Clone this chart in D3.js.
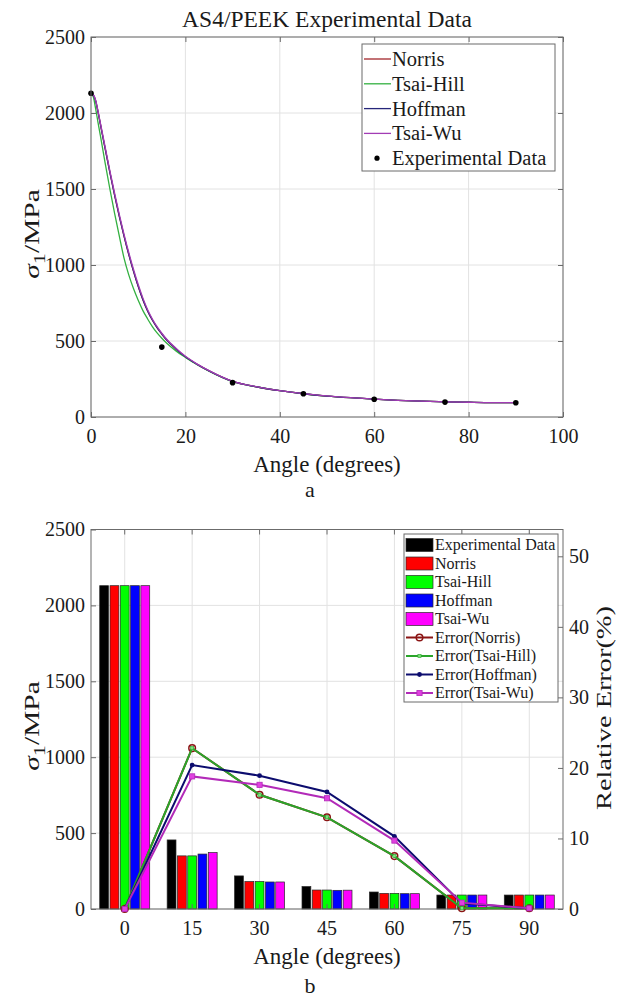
<!DOCTYPE html>
<html>
<head>
<meta charset="utf-8">
<script src="https://cdn.jsdelivr.net/npm/d3@7"></script>
<style>
  body { margin: 0; background: #fff; }
  svg text { font-family: "Liberation Serif", "Times New Roman", serif; fill: #1a1a1a; }
</style>
</head>
<body>
<svg id="fig" width="620" height="1001"></svg>
<script>
// ---- data ----
var curveAngles   = [0, 0.5, 1, 1.5, 2, 3, 4, 5, 6, 7, 8, 9, 10, 11, 12, 13, 14, 15, 16, 18, 20, 22.5, 25, 30, 35, 40, 45, 50, 55, 60, 65, 70, 75, 80, 85, 90];
var norrisCurve   = [2130, 2118, 2078, 2005, 1925, 1765, 1610, 1460, 1320, 1190, 1070, 960, 860, 772, 698, 638, 588, 546, 508, 448, 396, 346, 303, 234, 199, 173, 153, 138, 127, 118, 110, 104, 100, 97, 95, 95];
var tsaiHillCurve = [2130, 2105, 2025, 1935, 1850, 1670, 1500, 1340, 1190, 1045, 935, 845, 768, 700, 645, 595, 553, 518, 487, 435, 392, 344, 302, 233, 199, 173, 153, 138, 127, 118, 110, 104, 100, 97, 95, 95];
var hoffmanCurve  = [2130, 2118, 2078, 2005, 1925, 1765, 1610, 1460, 1320, 1190, 1070, 960, 860, 772, 698, 638, 588, 546, 508, 448, 396, 346, 303, 234, 199, 173, 153, 138, 127, 118, 110, 104, 100, 97, 95, 95];
var tsaiWuCurve   = [2130, 2120, 2082, 2010, 1932, 1775, 1620, 1472, 1332, 1202, 1082, 972, 872, 782, 706, 645, 594, 551, 513, 452, 399, 348, 305, 235, 200, 174, 154, 139, 127, 118, 110, 104, 100, 97, 95, 95];

var expAngles = [0, 15, 30, 45, 60, 75, 90];
var expValues = [2130, 460, 226, 153, 117, 98, 94];

var barCategories = ['0', '15', '30', '45', '60', '75', '90'];
var barSeries     = ['Experimental Data', 'Norris', 'Tsai-Hill', 'Hoffman', 'Tsai-Wu'];
var barExp        = [2130, 455, 218, 148, 112, 92, 92];
var barNorris     = [2130, 350, 181, 125, 103, 92, 92];
var barTsaiHill   = [2130, 350, 181, 125, 103, 92, 92];
var barHoffman    = [2130, 362, 178, 123, 101, 92, 92];
var barTsaiWu     = [2130, 372, 178, 124, 101, 92, 92];

var errSeries   = ['Error(Norris)', 'Error(Tsai-Hill)', 'Error(Hoffman)', 'Error(Tsai-Wu)'];
var errNorris   = [0, 22.8, 16.2, 13.0, 7.5, 0.1, 0.1];
var errTsaiHill = [0, 22.8, 16.2, 13.0, 7.5, 0.1, 0.1];
var errHoffman  = [0, 20.4, 18.9, 16.6, 10.3, 0.8, 0.1];
var errTsaiWu   = [0, 18.8, 17.6, 15.7, 9.7, 0.9, 0.1];

var topYTicks = [0, 500, 1000, 1500, 2000, 2500];
var topXTicks = [0, 20, 40, 60, 80, 100];
var errTicks  = [0, 10, 20, 30, 40, 50];

// ---- styles ----
var SERIF      = '"Liberation Serif", "Times New Roman", serif';
var AXIS_COLOR = '#6b6b6b';
var GRID_COLOR = '#e2e2e2';
var TICK_FONT  = 20;
var curveColors = ['#a3262a', '#33b040', '#26267a', '#a23cb4'];
var barColors   = ['#000000', '#ff0000', '#00ff00', '#0000ff', '#ff00ff'];
var errColors   = ['#8b1414', '#2aa52a', '#0c0c6e', '#b22ab8'];
var fmt = d3.format('d');

var svg = d3.select('#fig');

function styleAxis(g) {
    g.attr('font-family', null);
    g.select('.domain').remove();
    g.selectAll('.tick line').attr('stroke', AXIS_COLOR).attr('stroke-width', 1);
    g.selectAll('.tick text')
        .style('font-family', SERIF)
        .attr('font-size', TICK_FONT)
        .attr('fill', '#1a1a1a');
}

function addText(x, y, size, str) {
    return svg.append('text').attr('x', x).attr('y', y)
        .attr('text-anchor', 'middle')
        .style('font-family', SERIF)
        .attr('font-size', size).text(str);
}

// rotated labels are drawn slightly stretched along their run, as in the figure
function sigmaLabel(x, y) {
    var t = svg.append('text')
        .attr('transform', 'translate(' + x + ',' + y + ') rotate(-90) scale(1.4,1)')
        .attr('text-anchor', 'middle')
        .style('font-family', SERIF)
        .attr('font-size', 21);
    t.append('tspan').attr('font-style', 'italic').text('\u03c3');
    t.append('tspan').attr('dy', 6).attr('font-size', 16).text('1');
    t.append('tspan').attr('dy', -6).text('/MPa');
}

// =============== panel a ===============
var ax = d3.scaleLinear().domain([0, 100]).range([91, 563]);
var ay = d3.scaleLinear().domain([0, 2500]).range([417, 37]);

var gA = svg.append('g');

gA.selectAll('.vgrid').data(topXTicks).enter().append('line')
    .attr('x1', function(d) { return ax(d); }).attr('x2', function(d) { return ax(d); })
    .attr('y1', ay(0)).attr('y2', ay(2500))
    .attr('stroke', GRID_COLOR);
gA.selectAll('.hgrid').data(topYTicks).enter().append('line')
    .attr('x1', ax(0)).attr('x2', ax(100))
    .attr('y1', function(d) { return ay(d); }).attr('y2', function(d) { return ay(d); })
    .attr('stroke', GRID_COLOR);

var curveLine = d3.line()
    .x(function(d) { return ax(d[0]); })
    .y(function(d) { return ay(d[1]); })
    .curve(d3.curveMonotoneX);

var curves = [norrisCurve, tsaiHillCurve, hoffmanCurve, tsaiWuCurve];
curves.forEach(function(vals, i) {
    gA.append('path')
        .datum(d3.zip(curveAngles, vals))
        .attr('d', curveLine)
        .attr('fill', 'none')
        .attr('stroke', curveColors[i])
        .attr('stroke-width', 1.3);
});

gA.selectAll('.exp').data(d3.zip(expAngles, expValues)).enter().append('circle')
    .attr('cx', function(d) { return ax(d[0]); })
    .attr('cy', function(d) { return ay(d[1]); })
    .attr('r', 2.8)
    .attr('fill', '#000');

gA.append('g').attr('transform', 'translate(0,' + ay(0) + ')')
    .call(d3.axisBottom(ax).tickValues(topXTicks).tickSize(-5).tickPadding(12).tickFormat(fmt)).call(styleAxis);
gA.append('g').attr('transform', 'translate(0,' + ay(2500) + ')')
    .call(d3.axisTop(ax).tickValues(topXTicks).tickSize(-5).tickFormat('')).call(styleAxis);
gA.append('g').attr('transform', 'translate(' + ax(0) + ',0)')
    .call(d3.axisLeft(ay).tickValues(topYTicks).tickSize(-5).tickPadding(6).tickFormat(fmt)).call(styleAxis);
gA.append('g').attr('transform', 'translate(' + ax(100) + ',0)')
    .call(d3.axisRight(ay).tickValues(topYTicks).tickSize(-5).tickFormat('')).call(styleAxis);

gA.append('rect')
    .attr('x', ax(0)).attr('y', ay(2500))
    .attr('width', ax(100) - ax(0)).attr('height', ay(0) - ay(2500))
    .attr('fill', 'none').attr('stroke', AXIS_COLOR);

addText(327, 27, 23.5, 'AS4/PEEK Experimental Data');
addText(327, 472, 23, 'Angle (degrees)');
addText(310, 497, 22, 'a');
sigmaLabel(39, 234);

// legend a
var legA = gA.append('g');
legA.append('rect').attr('x', 362).attr('y', 44).attr('width', 193).attr('height', 127)
    .attr('fill', '#fff').attr('stroke', AXIS_COLOR);
var legANames = ['Norris', 'Tsai-Hill', 'Hoffman', 'Tsai-Wu', 'Experimental Data'];
legANames.forEach(function(name, i) {
    var cy = 59 + i * 24.8;
    if (i < 4) {
        legA.append('line').attr('x1', 364).attr('x2', 391).attr('y1', cy).attr('y2', cy)
            .attr('stroke', curveColors[i]).attr('stroke-width', 1.3);
    } else {
        legA.append('circle').attr('cx', 377).attr('cy', cy).attr('r', 2.6).attr('fill', '#000');
    }
    legA.append('text').attr('x', 392).attr('y', cy + 7)
        .style('font-family', SERIF).attr('font-size', 20.5).text(name);
});

// =============== panel b ===============
var bx = d3.scaleBand().domain(barCategories).range([91, 563]);
var by = d3.scaleLinear().domain([0, 2500]).range([909, 529.5]);
var ey = d3.scaleLinear().domain([0, 53.8]).range([909, 529.5]);
var inner = d3.scaleBand().domain(barSeries).range([-25, 25]).paddingInner(0.14);
function cx(c) { return bx(c) + bx.bandwidth() / 2; }

var gB = svg.append('g');

gB.selectAll('.vgrid').data(barCategories).enter().append('line')
    .attr('x1', cx).attr('x2', cx)
    .attr('y1', by(0)).attr('y2', by(2500))
    .attr('stroke', GRID_COLOR);
gB.selectAll('.hgrid').data(topYTicks).enter().append('line')
    .attr('x1', 91).attr('x2', 563)
    .attr('y1', function(d) { return by(d); }).attr('y2', function(d) { return by(d); })
    .attr('stroke', GRID_COLOR);

var barValues = [barExp, barNorris, barTsaiHill, barHoffman, barTsaiWu];
barSeries.forEach(function(s, si) {
    gB.selectAll('.bar' + si).data(barCategories).enter().append('rect')
        .attr('x', function(c) { return cx(c) + inner(s); })
        .attr('y', function(c, i) { return by(barValues[si][i]); })
        .attr('width', inner.bandwidth())
        .attr('height', function(c, i) { return by(0) - by(barValues[si][i]); })
        .attr('fill', barColors[si])
        .attr('stroke', '#2a2a2a')
        .attr('stroke-width', 0.7);
});

// axes for panel b
gB.append('g').attr('transform', 'translate(0,' + by(0) + ')')
    .call(d3.axisBottom(bx).tickSize(-5).tickPadding(12)).call(styleAxis);
gB.append('g').attr('transform', 'translate(0,' + by(2500) + ')')
    .call(d3.axisTop(bx).tickSize(-5).tickFormat('')).call(styleAxis);
gB.append('g').attr('transform', 'translate(91,0)')
    .call(d3.axisLeft(by).tickValues(topYTicks).tickSize(-5).tickPadding(6).tickFormat(fmt)).call(styleAxis);
gB.append('g').attr('transform', 'translate(563,0)')
    .call(d3.axisRight(ey).tickValues(errTicks).tickSize(-5).tickPadding(6).tickFormat(fmt)).call(styleAxis);

gB.append('rect')
    .attr('x', 91).attr('y', by(2500))
    .attr('width', 563 - 91).attr('height', by(0) - by(2500))
    .attr('fill', 'none').attr('stroke', AXIS_COLOR);

// error lines
var errValues = [errNorris, errTsaiHill, errHoffman, errTsaiWu];
var errLine = d3.line()
    .x(function(d) { return cx(d[0]); })
    .y(function(d) { return ey(d[1]); });

function drawMarker(g, kind, x, y) {
    if (kind === 0) {
        g.append('circle').attr('cx', x).attr('cy', y).attr('r', 3.3)
            .attr('fill', 'none').attr('stroke', errColors[0]).attr('stroke-width', 1.5);
    } else if (kind === 1) {
        g.append('rect').attr('x', x - 1.6).attr('y', y - 1.6).attr('width', 3.2).attr('height', 3.2)
            .attr('fill', '#7be07b').attr('stroke', errColors[1]).attr('stroke-width', 0.6);
    } else if (kind === 2) {
        g.append('circle').attr('cx', x).attr('cy', y).attr('r', 2.4).attr('fill', errColors[2]);
    } else {
        g.append('rect').attr('x', x - 2.6).attr('y', y - 2.6).attr('width', 5.2).attr('height', 5.2)
            .attr('fill', '#e040e0').attr('stroke', errColors[3]).attr('stroke-width', 0.8);
    }
}

errValues.forEach(function(vals, i) {
    var pts = d3.zip(barCategories, vals);
    gB.append('path').datum(pts).attr('d', errLine)
        .attr('fill', 'none').attr('stroke', errColors[i]).attr('stroke-width', 2);
    pts.forEach(function(p) { drawMarker(gB, i, cx(p[0]), ey(p[1])); });
});

addText(327, 964, 23, 'Angle (degrees)');
addText(310, 993, 22, 'b');
sigmaLabel(39, 726);
svg.append('text')
    .attr('transform', 'translate(611,708) rotate(-90) scale(1.35,1)')
    .attr('text-anchor', 'middle')
    .style('font-family', SERIF).attr('font-size', 21)
    .text('Relative Error(%)');

// legend b
var legB = gB.append('g');
legB.append('rect').attr('x', 404).attr('y', 534).attr('width', 154).attr('height', 168)
    .attr('fill', '#fff').attr('stroke', AXIS_COLOR);
barSeries.forEach(function(s, i) {
    var cy = 545 + i * 18.5;
    legB.append('rect').attr('x', 406).attr('y', cy - 6.5).attr('width', 27).attr('height', 13)
        .attr('fill', barColors[i]).attr('stroke', '#2a2a2a').attr('stroke-width', 0.7);
    legB.append('text').attr('x', 435).attr('y', cy + 5)
        .style('font-family', SERIF).attr('font-size', 16).text(s);
});
errSeries.forEach(function(s, i) {
    var cy = 545 + (i + 5) * 18.5;
    legB.append('line').attr('x1', 406).attr('x2', 433).attr('y1', cy).attr('y2', cy)
        .attr('stroke', errColors[i]).attr('stroke-width', 2);
    drawMarker(legB, i, 419.5, cy);
    legB.append('text').attr('x', 435).attr('y', cy + 5)
        .style('font-family', SERIF).attr('font-size', 16).text(s);
});
</script>
</body>
</html>
